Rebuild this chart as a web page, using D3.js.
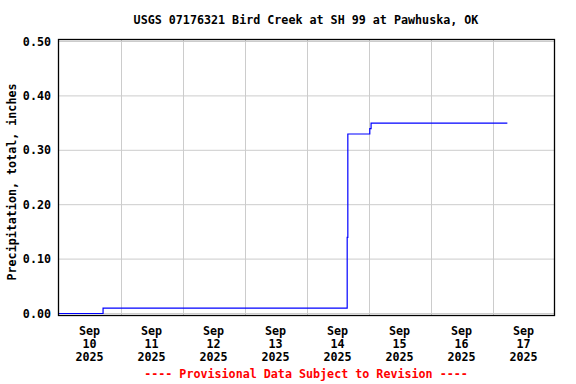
<!DOCTYPE html>
<html lang="en">
<head>
<meta charset="utf-8">
<script src="https://d3js.org/d3.v7.min.js"></script>
<style>
  body { margin: 0; background: #fff; }
  text { font-family: "DejaVu Sans Mono", monospace; font-weight: bold; font-size: 11.7px; }
</style>
</head>
<body>
<div id="graph"></div>
<script>

// data (step series)
var times = ["2025-09-10 00:00", "2025-09-10 17:15", "2025-09-14 15:45",
             "2025-09-14 16:00", "2025-09-15 00:30", "2025-09-15 01:00", "2025-09-17 05:45"];
var precip = [0.00, 0.01, 0.14, 0.33, 0.34, 0.35, 0.35];

var yTicks = [0.00, 0.10, 0.20, 0.30, 0.40, 0.50];
var dayTicks = ["2025-09-10", "2025-09-11", "2025-09-12", "2025-09-13",
                "2025-09-14", "2025-09-15", "2025-09-16", "2025-09-17"];
var xStart = "2025-09-10", xEnd = "2025-09-18";

var titleText = "USGS 07176321 Bird Creek at SH 99 at Pawhuska, OK";
var yLabel = "Precipitation, total, inches";
var footText = "---- Provisional Data Subject to Revision ----";

var W = 576, H = 384;
var plotL = 58.5, plotR = 554.5, plotT = 39.5, plotB = 315.5;

var parseT = d3.utcParse("%Y-%m-%d %H:%M");
var parseD = d3.utcParse("%Y-%m-%d");

var svg = d3.select("#graph").append("svg")
    .attr("width", W)
    .attr("height", H);

var x = d3.scaleUtc()
    .domain([parseD(xStart), parseD(xEnd)])
    .range([plotL, plotR]);

var y = d3.scaleLinear()
    .domain([0, 0.5])
    .range([313.5, 41.5]);

// grid
var grid = svg.append("g").attr("stroke", "#cccccc").attr("stroke-width", 1);
grid.selectAll(".hg")
  .data(yTicks)
  .enter().append("line")
    .attr("x1", plotL).attr("x2", plotR)
    .attr("y1", function (d) { return y(d); })
    .attr("y2", function (d) { return y(d); });
grid.selectAll(".vg")
  .data(dayTicks.slice(1))
  .enter().append("line")
    .attr("y1", plotT).attr("y2", plotB)
    .attr("x1", function (d) { return Math.round(x(parseD(d))) + 0.5; })
    .attr("x2", function (d) { return Math.round(x(parseD(d))) + 0.5; });

// data line
var data = times.map(function (t, i) { return {t: parseT(t), v: precip[i]}; });
var line = d3.line()
    .curve(d3.curveStepAfter)
    .x(function (d) { return x(d.t); })
    .y(function (d) { return y(d.v); });
svg.append("path")
    .datum(data)
    .attr("fill", "none")
    .attr("stroke", "#0000ff")
    .attr("stroke-width", 1.2)
    .attr("d", line);

// frame
svg.append("rect")
    .attr("x", plotL).attr("y", plotT)
    .attr("width", plotR - plotL).attr("height", plotB - plotT)
    .attr("fill", "none")
    .attr("stroke", "#000")
    .attr("stroke-width", 1.3);

// y axis labels
svg.append("g")
  .selectAll("text")
  .data(yTicks)
  .enter().append("text")
    .attr("x", 51)
    .attr("y", function (d) { return y(d) + 4; })
    .attr("text-anchor", "end")
    .text(function (d) { return d3.format(".2f")(d); });

// x axis labels: month / day / year at noon of each day
var fmts = [d3.utcFormat("%b"), d3.utcFormat("%d"), d3.utcFormat("%Y")];
var xl = svg.append("g")
  .selectAll("text")
  .data(dayTicks)
  .enter().append("text")
    .attr("text-anchor", "middle")
    .attr("transform", function (d) {
      return "translate(" + x(d3.utcHour.offset(parseD(d), 12)) + ",334.5)";
    });
xl.selectAll("tspan")
  .data(function (d) { return fmts.map(function (f) { return f(parseD(d)); }); })
  .enter().append("tspan")
    .attr("x", 0)
    .attr("y", function (d, i) { return i * 13; })
    .text(function (d) { return d; });

// title
svg.append("text")
    .attr("x", 306)
    .attr("y", 24)
    .attr("text-anchor", "middle")
    .text(titleText);

// y axis title
svg.append("text")
    .attr("text-anchor", "middle")
    .attr("transform", "translate(16,182) rotate(-90)")
    .text(yLabel);

// footer
svg.append("text")
    .attr("x", 306)
    .attr("y", 378)
    .attr("text-anchor", "middle")
    .attr("fill", "#ff0000")
    .text(footText);

</script>
</body>
</html>
